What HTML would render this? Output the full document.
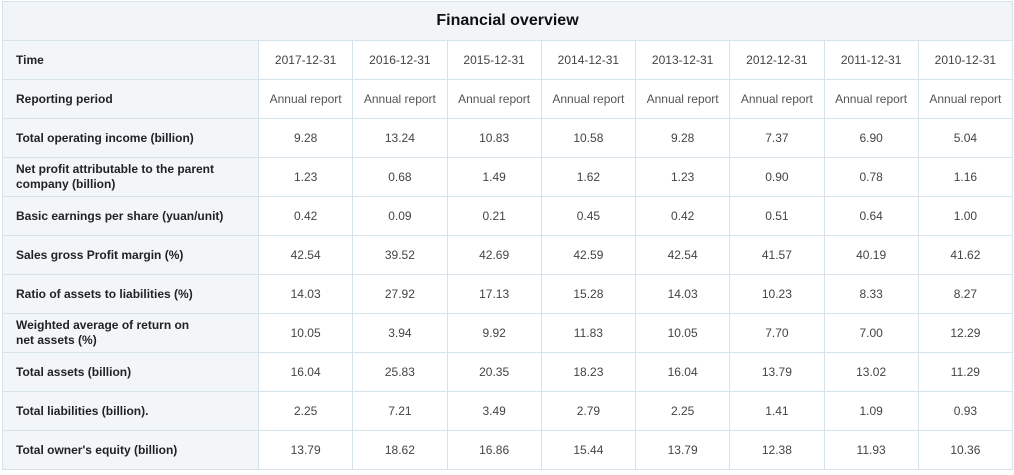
<!DOCTYPE html>
<html><head><meta charset="utf-8"><style>
html,body{margin:0;padding:0;background:#fff;width:1014px;height:475px;overflow:hidden}
table{position:absolute;left:2px;top:1px;border-collapse:collapse;table-layout:fixed;width:1011px;font-family:"Liberation Sans",Arial,sans-serif;font-size:12px;color:#333}
td,th{border:1px solid #d6e3ea;height:39px;padding:0;box-sizing:border-box}
th.title{background:#f1f5f8;font-size:16px;font-weight:bold;color:#111;height:39px}
td.lab{background:#f3f6f9;font-weight:bold;color:#222;padding-left:13px;line-height:15px}
td.v{text-align:center;background:#fff;color:#444}
td.rp{color:#555}
</style></head><body>
<table>
<colgroup><col style="width:256px"><col><col><col><col><col><col><col><col></colgroup>
<tr><th class="title" colspan="9">Financial overview</th></tr>
<tr><td class="lab">Time</td><td class="v">2017-12-31</td><td class="v">2016-12-31</td><td class="v">2015-12-31</td><td class="v">2014-12-31</td><td class="v">2013-12-31</td><td class="v">2012-12-31</td><td class="v">2011-12-31</td><td class="v">2010-12-31</td></tr>
<tr><td class="lab">Reporting period</td><td class="v rp">Annual report</td><td class="v rp">Annual report</td><td class="v rp">Annual report</td><td class="v rp">Annual report</td><td class="v rp">Annual report</td><td class="v rp">Annual report</td><td class="v rp">Annual report</td><td class="v rp">Annual report</td></tr>
<tr><td class="lab">Total operating income (billion)</td><td class="v">9.28</td><td class="v">13.24</td><td class="v">10.83</td><td class="v">10.58</td><td class="v">9.28</td><td class="v">7.37</td><td class="v">6.90</td><td class="v">5.04</td></tr>
<tr><td class="lab">Net profit attributable to the parent<br>company (billion)</td><td class="v">1.23</td><td class="v">0.68</td><td class="v">1.49</td><td class="v">1.62</td><td class="v">1.23</td><td class="v">0.90</td><td class="v">0.78</td><td class="v">1.16</td></tr>
<tr><td class="lab">Basic earnings per share (yuan/unit)</td><td class="v">0.42</td><td class="v">0.09</td><td class="v">0.21</td><td class="v">0.45</td><td class="v">0.42</td><td class="v">0.51</td><td class="v">0.64</td><td class="v">1.00</td></tr>
<tr><td class="lab">Sales gross Profit margin (%)</td><td class="v">42.54</td><td class="v">39.52</td><td class="v">42.69</td><td class="v">42.59</td><td class="v">42.54</td><td class="v">41.57</td><td class="v">40.19</td><td class="v">41.62</td></tr>
<tr><td class="lab">Ratio of assets to liabilities (%)</td><td class="v">14.03</td><td class="v">27.92</td><td class="v">17.13</td><td class="v">15.28</td><td class="v">14.03</td><td class="v">10.23</td><td class="v">8.33</td><td class="v">8.27</td></tr>
<tr><td class="lab">Weighted average of return on<br>net assets (%)</td><td class="v">10.05</td><td class="v">3.94</td><td class="v">9.92</td><td class="v">11.83</td><td class="v">10.05</td><td class="v">7.70</td><td class="v">7.00</td><td class="v">12.29</td></tr>
<tr><td class="lab">Total assets (billion)</td><td class="v">16.04</td><td class="v">25.83</td><td class="v">20.35</td><td class="v">18.23</td><td class="v">16.04</td><td class="v">13.79</td><td class="v">13.02</td><td class="v">11.29</td></tr>
<tr><td class="lab">Total liabilities (billion).</td><td class="v">2.25</td><td class="v">7.21</td><td class="v">3.49</td><td class="v">2.79</td><td class="v">2.25</td><td class="v">1.41</td><td class="v">1.09</td><td class="v">0.93</td></tr>
<tr><td class="lab">Total owner's equity (billion)</td><td class="v">13.79</td><td class="v">18.62</td><td class="v">16.86</td><td class="v">15.44</td><td class="v">13.79</td><td class="v">12.38</td><td class="v">11.93</td><td class="v">10.36</td></tr>
</table>
</body></html>
